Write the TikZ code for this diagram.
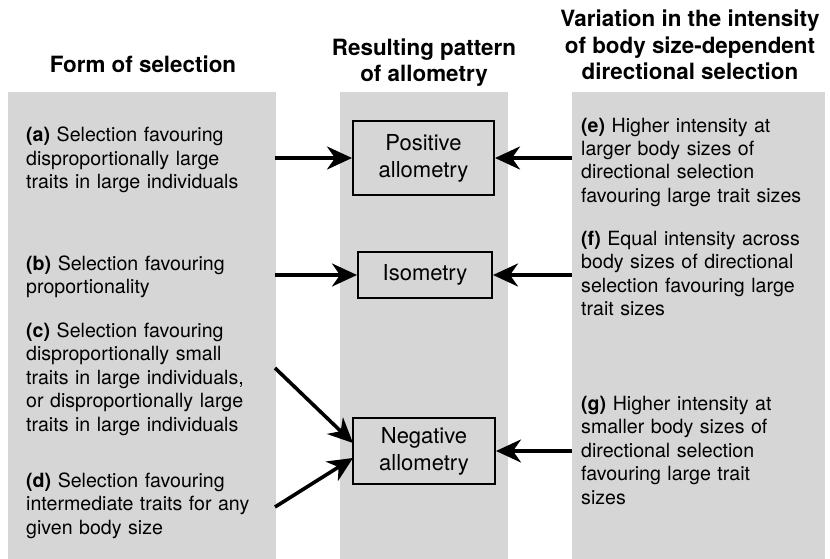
\documentclass[tikz,border=0pt]{standalone}
\usepackage{fontspec}
\setmainfont{TeX Gyre Heros}
\usetikzlibrary{arrows.meta}
\definecolor{panelgrey}{HTML}{D6D6D6}
\begin{document}
\begin{tikzpicture}[x=1pt,y=-1pt,
  panel/.style={fill=panelgrey,draw=none},
  body/.style={anchor=base west,inner sep=0pt,text width=#1,align=left,
    font=\fontsize{19.6}{23.5}\selectfont},
  head/.style={anchor=base,inner sep=0pt,align=center,
    font=\bfseries\fontsize{22.4}{26.5}\selectfont},
  resbox/.style={draw=black,line width=2pt,fill=panelgrey,inner sep=0pt,align=center,
    font=\fontsize{22}{27}\selectfont},
  conn/.style={line width=3.6pt,-{Stealth[length=25pt,width=23pt,inset=8pt]}}]
\useasboundingbox (0,0) rectangle (830,559);
% panels
\fill[panel] (8,92) rectangle (276,559);
\fill[panel] (340,92) rectangle (508,559);
\fill[panel] (572,92) rectangle (825,559);
% headings (base anchor = last line)
\node[head] (h1) at (143,73) {Form of selection};
\node[head] (h2) at (424,82) {Resulting pattern\\of allometry};
\node[head] (h3) at (690,80) {Variation in the intensity\\of body size-dependent\\directional selection};
% left texts
\node[body=250pt] (ta) at (26,142) {\textbf{(a)} Selection favouring\\disproportionally large\\traits in large individuals};
\node[body=250pt] (tb) at (26,270) {\textbf{(b)} Selection favouring\\proportionality};
\node[body=250pt] (tc) at (26,337) {\textbf{(c)} Selection favouring\\disproportionally small\\traits in large individuals,\\or disproportionally large\\traits in large individuals};
\node[body=250pt] (td) at (26,487) {\textbf{(d)} Selection favouring\\intermediate traits for any\\given body size};
% right texts
\node[body=245pt] (te) at (581,132) {\textbf{(e)} Higher intensity at\\larger body sizes of\\directional selection\\favouring large trait sizes};
\node[body=245pt] (tf) at (581,245) {\textbf{(f)} Equal intensity across\\body sizes of directional\\selection favouring large\\trait sizes};
\node[body=245pt] (tg) at (581,410) {\textbf{(g)} Higher intensity at\\smaller body sizes of\\directional selection\\favouring large trait\\sizes};
% result boxes
\node[resbox,minimum width=141pt,minimum height=74pt] (pos) at (423.5,158) {Positive\\allometry};
\node[resbox,minimum width=134pt,minimum height=46pt] (iso) at (425,275) {Isometry};
\node[resbox,minimum width=142pt,minimum height=66pt] (neg) at (424,451) {Negative\\allometry};
% connector ends
\coordinate (a0) at (275,158);
\coordinate (b0) at (275,275);
\coordinate (c0) at (275,368);
\coordinate (d0) at (275,507);
\coordinate (cn) at (353,443);
\coordinate (dn) at (353,458);
\coordinate (e0) at (572,158);
\coordinate (f0) at (572,275);
\coordinate (g0) at (572,451);
% connectors
\draw[conn] (a0) -- (pos.west);
\draw[conn] (b0) -- (iso.west);
\draw[conn] (c0) -- (cn);
\draw[conn] (d0) -- (dn);
\draw[conn] (e0) -- (pos.east);
\draw[conn] (f0) -- (iso.east);
\draw[conn] (g0) -- (neg.east);
\end{tikzpicture}
\end{document}
